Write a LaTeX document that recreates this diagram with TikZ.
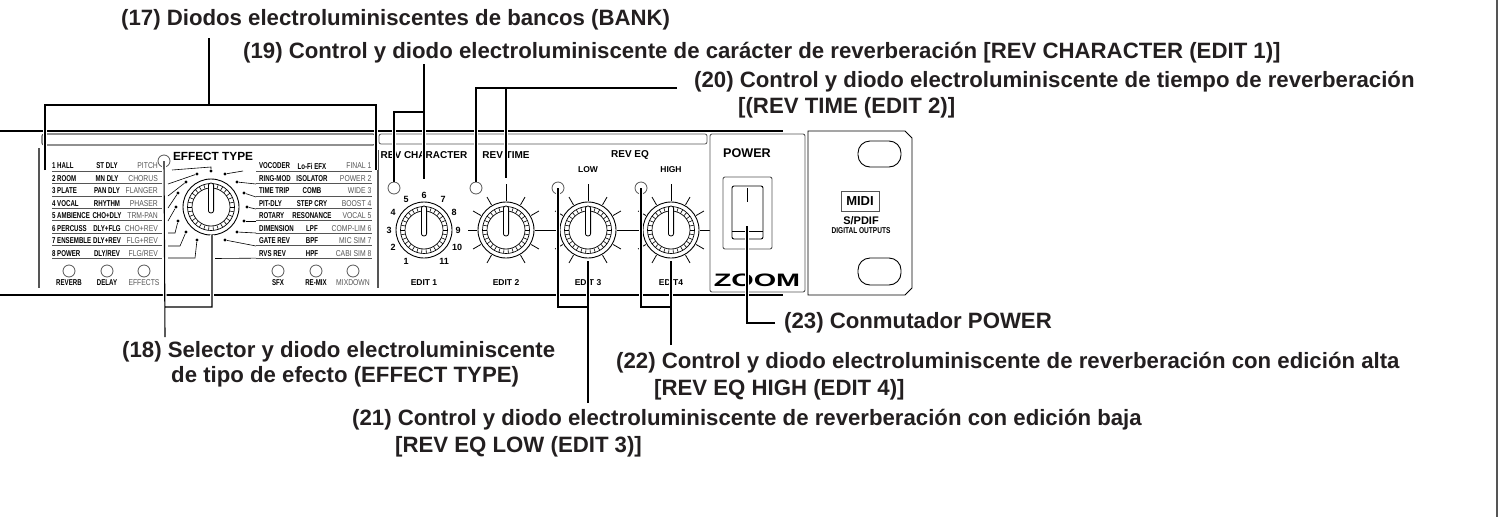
\documentclass[tikz,border=0pt]{standalone}
\usepackage{fontspec}
\setmainfont{Liberation Sans}
\usepackage{tikz}
\usetikzlibrary{positioning}
\definecolor{inkblack}{HTML}{231F20}
\definecolor{panelgray}{HTML}{555555}
\tikzstyle{mainlabel} = [anchor=west, inner sep=0pt, text=inkblack, font=\fontsize{22.2}{24}\selectfont\bfseries]
\tikzstyle{leader} = [line width=1.1pt, draw=black, preaction={draw=white, line width=3.6pt}]
\tikzstyle{panel} = [line width=1.1pt, draw=black]
\tikzstyle{trim} = [line width=1.1pt, draw=panelgray]
\tikzstyle{wire} = [line width=.6pt, draw=black]
\tikzstyle{dot} = [circle, fill=black, inner sep=0pt, minimum size=3.4pt]
\tikzstyle{led} = [circle, draw=panelgray, fill=white, line width=.8pt, inner sep=0pt, minimum size=12pt]
\tikzstyle{knob} = [circle, draw=black, fill=white, line width=.9pt, inner sep=0pt, minimum size=56pt]
\tikzstyle{bank} = [inner sep=0pt, text=black, xscale=.72, font=\fontsize{8.5}{9}\selectfont\bfseries]
\tikzstyle{bankgray} = [inner sep=0pt, text=panelgray, xscale=.8, font=\fontsize{8.5}{9}\selectfont]
\tikzstyle{caption} = [inner sep=0pt, text=black, font=\fontsize{10}{11}\selectfont\bfseries]
\begin{document}
\begin{tikzpicture}[x=1pt, y=-1pt]
\useasboundingbox (0,0) rectangle (1503,517);
\coordinate (edgetop) at (1497,0);
\coordinate (edgebottom) at (1497,517);
\draw [line width=1.6pt, draw=panelgray] (edgetop) -- (edgebottom);

% front panel
\coordinate (ptl) at (0,131);
\coordinate (ptr) at (783,131);
\coordinate (pbl) at (0,295);
\coordinate (pbr) at (783,295);
\draw [panel] (ptl) -- (ptr);
\draw [panel] (pbl) -- (pbr);
\node (head1) [trim, rounded corners=2pt, inner sep=0pt, minimum width=333pt, minimum height=11pt] at (208.5,139.5) {};
\node (head2) [trim, line width=.8pt, rounded corners=2pt, inner sep=0pt, minimum width=328pt, minimum height=10pt] at (543,139) {};
\coordinate (sideLa) at (39,148);
\coordinate (sideLb) at (39,288);
\coordinate (sideRa) at (378,150);
\coordinate (sideRb) at (378,288);
\draw [trim] (sideLa) -- (sideLb);
\draw [trim] (sideRa) -- (sideRb);

% bank rows
\foreach \i/\a/\b/\c in {1/1 HALL/ST DLY/PITCH, 2/2 ROOM/MN DLY/CHORUS, 3/3 PLATE/PAN DLY/FLANGER,
    4/4 VOCAL/RHYTHM/PHASER, 5/5 AMBIENCE/CHO+DLY/TRM-PAN, 6/6 PERCUSS/DLY+FLG/CHO+REV,
    7/7 ENSEMBLE/DLY+REV/FLG+REV, 8/8 POWER/{DLY/REV}/{FLG/REV}} {
  \node (la\i) [bank, anchor=west] at (52,{166+12.45*(\i-1)}) {\a};
  \node (lb\i) [bank] at (107,{166+12.45*(\i-1)}) {\b};
  \node (lc\i) [bankgray, anchor=east] at (158,{166+12.45*(\i-1)}) {\c};
  \coordinate (lineLa\i) at (52,{171+12.45*(\i-1)});
  \coordinate (lineLb\i) at (161.5,{171+12.45*(\i-1)});
  \draw [trim, line width=.8pt] (lineLa\i) -- (lineLb\i);
}
\foreach \i/\a/\b/\c in {1/VOCODER/Lo-Fi EFX/FINAL 1, 2/RING-MOD/ISOLATOR/POWER 2, 3/TIME TRIP/COMB/WIDE 3,
    4/PIT-DLY/STEP CRY/BOOST 4, 5/ROTARY/RESONANCE/VOCAL 5, 6/DIMENSION/LPF/COMP-LIM 6,
    7/GATE REV/BPF/MIC SIM 7, 8/RVS REV/HPF/CABI SIM 8} {
  \node (ra\i) [bank, anchor=west] at (259,{166+12.45*(\i-1)}) {\a};
  \node (rb\i) [bank] at (312,{166+12.45*(\i-1)}) {\b};
  \node (rc\i) [bankgray, anchor=east] at (371.5,{166+12.45*(\i-1)}) {\c};
  \coordinate (lineRa\i) at (256,{171+12.45*(\i-1)});
  \coordinate (lineRb\i) at (372,{171+12.45*(\i-1)});
  \draw [trim, line width=.8pt] (lineRa\i) -- (lineRb\i);
}
\coordinate (lineRc) at (215,258.5);
\draw [wire] (lineRc) -- (lineRa8);

% selector dots
\foreach \n/\sx/\sy/\bx/\by/\dx/\dy in {L1/172/170/211/167/211/171, L2/168/184/168/184/197/174,
    L3/168/196/168/196/186/182, L4/168/208/168/208/178/193, L5/168/221/168/221/176/207,
    L6/168/233/175/233/178/221, L7/168/246/180/246/186/232, L8/168/258/195/258/197/240,
    R1/243/171/243/171/225/174, R2/256/184/256/184/237/182, R3/256/197/256/197/244/193,
    R4/256/209/256/209/247/207, R5/256/221/256/221/244/221, R6/256/233/256/233/237/232,
    R7/256/246/256/246/225/240} {
  \coordinate (w\n) at (\sx,\sy);
  \coordinate (b\n) at (\bx,\by);
  \node (d\n) [dot] at (\dx,\dy) {};
  \draw [wire] (w\n) -- (b\n) -- (d\n);
}

% buttons
\foreach \n/\x/\t/\s in {btn1/69/REVERB/bank, btn2/107/DELAY/bank, btn3/144/EFFECTS/bankgray,
    btn4/278/SFX/bank, btn5/316/RE-MIX/bank, btn6/353/MIXDOWN/bankgray} {
  \node (\n) [led] at (\x,271) {};
  \node (\n text) [\s] at (\x,283) {\t};
}
\node (efftitle) [inner sep=0pt, text=black, font=\fontsize{11.8}{13}\selectfont\bfseries] at (213,156) {EFFECT TYPE};

% knobs
\foreach \n/\x/\y in {knob1/424/230, knob2/506/230, knob3/588/230, knob4/671/230, knob5/211/207} {
  \node (\n) [knob] at (\x,\y) {};
  \draw [wire, line width=.7pt] (\n.center) circle (23.5pt) (\n.center) circle (19pt);
  \foreach \a in {0,12,...,348} {
    \draw [wire, line width=.6pt] ([shift={(\a:19pt)}]\n.center) -- ([shift={(\a:23.5pt)}]\n.center);
  }
  \draw [wire, line width=.8pt, fill=white, rounded corners=2.4pt] ([shift={(-2.6pt,-6pt)}]\n.center) rectangle ([shift={(2.6pt,24pt)}]\n.center);
}
\foreach \n in {knob2,knob3,knob4} {
  \foreach \a/\r in {-60/38,-30/38,0/49,30/38,60/38,90/46,120/38,150/38,180/38,210/38,240/38} {
    \draw [wire, line width=.8pt] ([shift={(\a:29pt)}]\n.center) -- ([shift={(\a:\r pt)}]\n.center);
  }
}
\foreach \t/\x/\y in {1/406/261, 2/393/247, 3/389/230, 4/393/212, 5/406/199, 6/424/195,
    7/443/199, 8/454/212, 9/458/230, 10/457/247, 11/444/261} {
  \node (num\t) [caption, font=\fontsize{9}{10}\selectfont\bfseries] at (\x,\y) {\t};
}
\node (capchar) [caption] at (424,155) {REV CHARACTER};
\node (captime) [caption] at (506,155) {REV TIME};
\node (capeq) [caption] at (630,155) {REV EQ};
\node (caplow) [caption, font=\fontsize{8.5}{9}\selectfont\bfseries] at (588,170) {LOW};
\node (caphigh) [caption, font=\fontsize{8.5}{9}\selectfont\bfseries] at (671,170) {HIGH};
\node (edit1) [caption, font=\fontsize{8.5}{9}\selectfont\bfseries] at (424,283) {EDIT 1};
\node (edit2) [caption, font=\fontsize{8.5}{9}\selectfont\bfseries] at (506,283) {EDIT 2};
\node (edit3) [caption, font=\fontsize{8.5}{9}\selectfont\bfseries] at (588,283) {EDIT 3};
\node (edit4) [caption, font=\fontsize{8.5}{9}\selectfont\bfseries] at (671,283) {EDIT4};
\node (led0) [led] at (164,161) {};
\node (led1) [led] at (394,188) {};
\node (led2) [led] at (476,188) {};
\node (led3) [led] at (558,188) {};
\node (led4) [led] at (641,188) {};

% power block
\node (powerbox) [trim, line width=.9pt, fill=white, rounded corners=2pt, inner sep=0pt, minimum width=95pt, minimum height=158pt] at (757.5,213) {};
\node (powertext) [inner sep=0pt, font=\fontsize{12.6}{13}\selectfont\bfseries] at (747,153) {POWER};
\node (switchouter) [trim, line width=.9pt, rounded corners=2pt, inner sep=0pt, minimum width=49pt, minimum height=72pt] at (747.5,213) {};
\node (switchinner) [panel, line width=.9pt, rounded corners=2pt, inner sep=0pt, minimum width=31pt, minimum height=53pt] at (747.5,212.5) {};
\coordinate (rockera) at (732,231);
\coordinate (rockerb) at (763,231);
\coordinate (tickera) at (747,188);
\coordinate (tickerb) at (747,202);
\draw [wire, line width=.8pt] (rockera) -- (rockerb);
\draw [wire, line width=.9pt] (tickera) -- (tickerb);
\node (brand) [inner sep=0pt, xscale=1.6, font=\fontsize{18}{18}\selectfont\bfseries] at (757,280) {ZOOM};

% rack ear
\draw [trim, line width=.9pt, draw=black] (808,131) -- (905,131) -- (912,138) -- (912,288) -- (905,295) -- (808,295) -- cycle;
\node (hole1) [draw=black, line width=.9pt, rounded corners=12pt, inner sep=0pt, minimum width=43pt, minimum height=26pt] at (879.5,154) {};
\node (hole2) [draw=black, line width=.9pt, rounded corners=12pt, inner sep=0pt, minimum width=43pt, minimum height=27pt] at (879.5,271.5) {};
\node (midi) [draw=panelgray, line width=.6pt, inner sep=0pt, minimum width=38pt, minimum height=20pt, font=\fontsize{13}{13}\selectfont\bfseries] at (860,201) {MIDI};
\node (spdif) [inner sep=0pt, font=\fontsize{11}{11}\selectfont\bfseries] at (861,221) {S/PDIF};
\node (digital) [inner sep=0pt, xscale=.77, font=\fontsize{8.5}{9}\selectfont\bfseries] at (861,231) {DIGITAL OUTPUTS};

% labels
\node (lab17) [mainlabel] at (121,20) {(17) Diodos electroluminiscentes de bancos (BANK)};
\node (lab19) [mainlabel] at (243,53) {(19) Control y diodo electroluminiscente de carácter de reverberación [REV CHARACTER (EDIT 1)]};
\node (lab20a) [mainlabel] at (694,82) {(20) Control y diodo electroluminiscente de tiempo de reverberación};
\node (lab20b) [mainlabel] at (738,108) {[(REV TIME (EDIT 2)]};
\node (lab18a) [mainlabel] at (122,352) {(18) Selector y diodo electroluminiscente};
\node (lab18b) [mainlabel] at (171,377) {de tipo de efecto (EFFECT TYPE)};
\node (lab21a) [mainlabel] at (352,420) {(21) Control y diodo electroluminiscente de reverberación con edición baja};
\node (lab21b) [mainlabel] at (395,447) {[REV EQ LOW (EDIT 3)]};
\node (lab22a) [mainlabel] at (616,363) {(22) Control y diodo electroluminiscente de reverberación con edición alta};
\node (lab22b) [mainlabel] at (654,390) {[REV EQ HIGH (EDIT 4)]};
\node (lab23) [mainlabel] at (784,323) {(23) Conmutador POWER};

% leaders
\coordinate (top17) at (209,38);
\coordinate (mid17) at (209,105);
\coordinate (left17) at (45,170);
\coordinate (right17) at (376,170);
\draw [leader] (left17) |- (mid17) -| (right17) (mid17) -- (top17);
\coordinate (top19) at (424,64);
\coordinate (mid19) at (424,112);
\coordinate (end19) at (424,179);
\draw [leader] (top19) -- (end19) (mid19) -| (led1.north);
\coordinate (free20) at (677,88);
\coordinate (mid20) at (506,88);
\coordinate (end20) at (506,178);
\draw [leader] (free20) -| (led2.north) (mid20) -- (end20);
\coordinate (free18) at (165,337);
\coordinate (mid18) at (165,307);
\coordinate (end18) at (212,235);
\draw [leader] (free18) -- (led0.center) (mid18) -| (end18);
\coordinate (free21) at (588,403);
\coordinate (mid21) at (588,307);
\coordinate (end21) at (588,261);
\draw [leader] (free21) -- (end21) (mid21) -| (led3.center);
\coordinate (free22) at (671,345);
\coordinate (mid22) at (671,307);
\coordinate (end22) at (671,261);
\draw [leader] (free22) -- (end22) (mid22) -| (led4.center);
\coordinate (free23) at (775,323);
\coordinate (end23) at (747,226);
\draw [leader] (free23) -| (end23);
\end{tikzpicture}
\end{document}
